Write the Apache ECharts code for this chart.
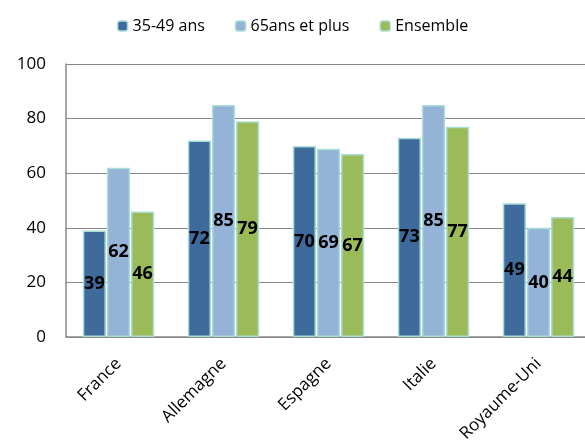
<!DOCTYPE html>
<html>
<head>
<meta charset="utf-8">
<script src="https://cdn.jsdelivr.net/npm/echarts@6/dist/echarts.min.js"></script>
<style>
html, body { margin: 0; padding: 0; background: #fff; }
#chart { width: 585px; height: 443px; }
</style>
</head>
<body>
<div id="chart"></div>
<script>
var categories = ['France', 'Allemagne', 'Espagne', 'Italie', 'Royaume-Uni'];
var seriesNames = ['35-49 ans', '65ans et plus', 'Ensemble'];
var age3549 = [39, 72, 70, 73, 49];
var age65plus = [62, 85, 69, 85, 40];
var ensemble = [46, 79, 67, 77, 44];
var yTicks = [0, 20, 40, 60, 80, 100];

var colors = ['#3F6A9C', '#95B3D7', '#9BBB59'];
var font = 'Open Sans';

var makeSeries = function(name, data, color) {
	return {
		name: name,
		type: 'bar',
		data: data,
		barGap: '4%',
		barCategoryGap: '32%',
		itemStyle: {
			color: color,
			borderColor: '#A9DDD6',
			borderWidth: 1.5
		},
		label: {
			show: true,
			position: 'inside',
			color: '#000',
			fontFamily: font,
			fontWeight: 'bold',
			fontSize: 18
		}
	};
};

var chart = echarts.init(document.getElementById('chart'));
chart.setOption({
	animation: false,
	textStyle: { fontFamily: font },
	legend: {
		top: 13,
		left: 'center',
		itemWidth: 10,
		itemHeight: 10,
		itemGap: 30,
		data: seriesNames.map(function(n, i) {
			return { name: n, itemStyle: { color: colors[i], borderColor: '#A9DDD6', borderWidth: 1.5 } };
		}),
		textStyle: { fontFamily: font, fontSize: 16, color: '#000' }
	},
	grid: {
		left: 66,
		right: -6,
		top: 64,
		bottom: 106,
		containLabel: false,
		outerBoundsMode: 'none'
	},
	xAxis: {
		type: 'category',
		data: categories,
		axisLine: { lineStyle: { color: '#888', width: 1.5 } },
		axisTick: { show: false },
		axisLabel: {
			rotate: 45,
			fontFamily: font,
			fontSize: 17,
			color: '#000',
			margin: 24
		}
	},
	yAxis: {
		type: 'value',
		min: yTicks[0],
		max: yTicks[yTicks.length - 1],
		interval: 20,
		axisLine: { show: true, lineStyle: { color: '#888', width: 1.5 } },
		axisTick: { show: false },
		splitLine: { lineStyle: { color: '#888', width: 1.2 } },
		axisLabel: {
			fontFamily: font,
			fontSize: 17,
			color: '#000',
			margin: 20
		}
	},
	series: [
		makeSeries(seriesNames[0], age3549, colors[0]),
		makeSeries(seriesNames[1], age65plus, colors[1]),
		makeSeries(seriesNames[2], ensemble, colors[2])
	]
});
</script>
</body>
</html>
